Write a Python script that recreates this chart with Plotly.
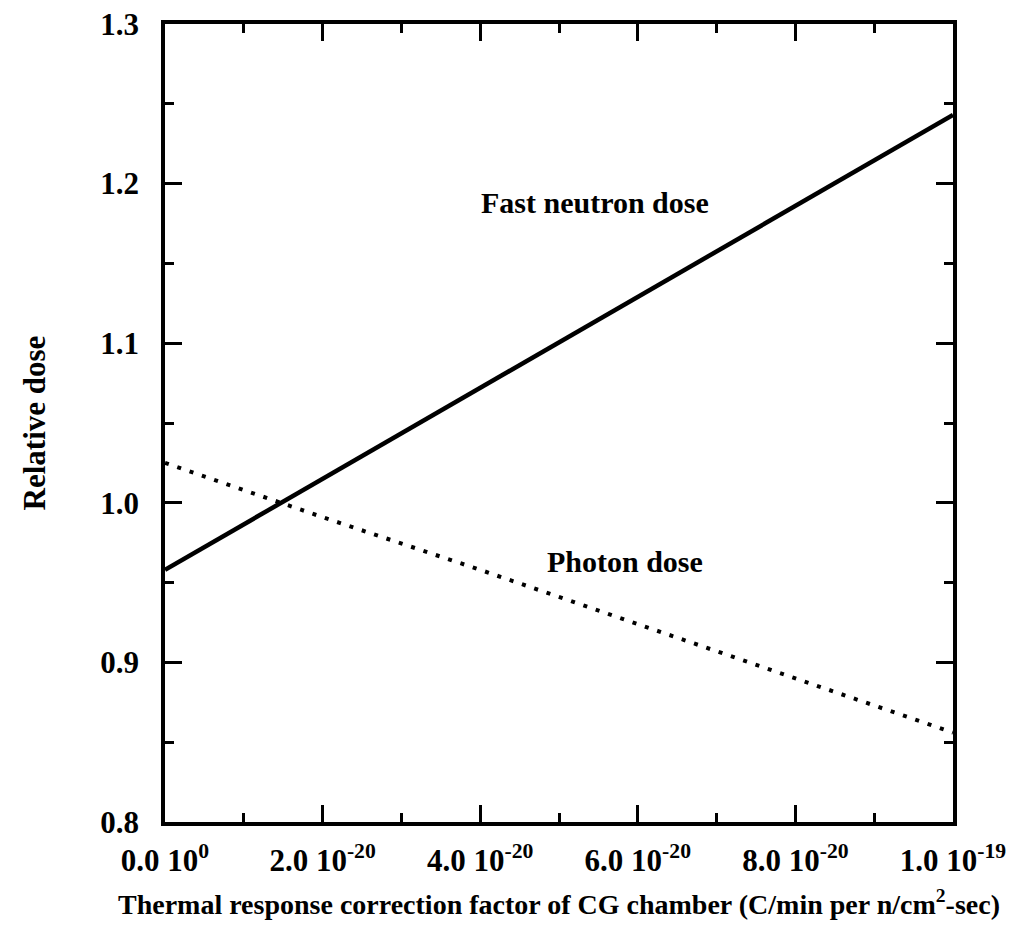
import plotly.graph_objects as go

# Data
x_vals = [0.0, 2.0e-20, 4.0e-20, 6.0e-20, 8.0e-20, 1.0e-19]
fast_neutron = [0.958, 1.015, 1.072, 1.129, 1.186, 1.243]
photon = [1.025, 0.991, 0.958, 0.924, 0.890, 0.856]

x_tickvals = [0.0, 2.0e-20, 4.0e-20, 6.0e-20, 8.0e-20, 1.0e-19]
x_ticktext = ["0.0 10<sup>0</sup>", "2.0 10<sup>-20</sup>", "4.0 10<sup>-20</sup>",
              "6.0 10<sup>-20</sup>", "8.0 10<sup>-20</sup>", "1.0 10<sup>-19</sup>"]
y_tickvals = [0.8, 0.9, 1.0, 1.1, 1.2, 1.3]
y_ticktext = ["0.8", "0.9", "1.0", "1.1", "1.2", "1.3"]

FONT = "Liberation Serif"

def b(s):
    return "<b>" + s + "</b>"

fig = go.Figure()
fig.add_trace(go.Scatter(x=x_vals, y=fast_neutron, mode="lines",
                         line=dict(color="black", width=4.5), showlegend=False,
                         name="Fast neutron dose"))
fig.add_trace(go.Scatter(x=x_vals, y=photon, mode="lines",
                         line=dict(color="black", width=4, dash="4px,9px"), showlegend=False,
                         name="Photon dose"))

fig.add_annotation(x=5.46e-20, y=1.188, text=b("Fast neutron dose"), showarrow=False,
                   font=dict(family=FONT, size=30, color="black"))
fig.add_annotation(x=5.84e-20, y=0.963, text=b("Photon dose"), showarrow=False,
                   font=dict(family=FONT, size=30, color="black"))

axis_common = dict(showline=True, linecolor="black", linewidth=3.5, mirror="ticks",
                   ticks="inside", ticklen=17, tickwidth=3, tickcolor="black",
                   showgrid=False, zeroline=False,
                   tickfont=dict(family=FONT, size=31, color="black"))

fig.update_xaxes(range=[0, 1.0e-19], tickvals=x_tickvals, ticktext=[b(t) for t in x_ticktext],
                 minor=dict(ticks="inside", ticklen=9, tickwidth=3, tickcolor="black",
                            tickvals=[1e-20, 3e-20, 5e-20, 7e-20, 9e-20]),
                 title=dict(text=b("Thermal response correction factor of CG chamber (C/min per n/cm<sup>2</sup>-sec)"),
                            standoff=18, font=dict(family=FONT, size=28, color="black")),
                 ticklabelstandoff=8,
                 **axis_common)
fig.update_yaxes(range=[0.8, 1.3], tickvals=y_tickvals, ticktext=[b(t) for t in y_ticktext],
                 minor=dict(ticks="inside", ticklen=9, tickwidth=3, tickcolor="black",
                            tickvals=[0.85, 0.95, 1.05, 1.15, 1.25]),
                 title=dict(text=b("Relative dose"), standoff=46,
                            font=dict(family=FONT, size=31, color="black")),
                 ticklabelstandoff=16,
                 **axis_common)

fig.update_layout(width=1031, height=945, plot_bgcolor="white", paper_bgcolor="white",
                  margin=dict(l=165, r=78, t=24, b=123, autoexpand=False),
                  font=dict(family=FONT, color="black"))

fig.write_html("out.html")
